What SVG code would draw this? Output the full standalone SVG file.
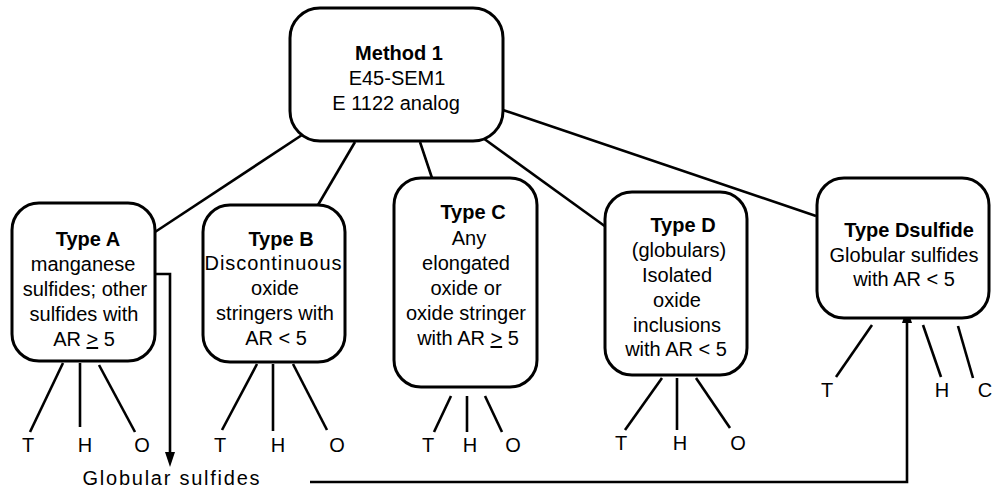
<svg xmlns="http://www.w3.org/2000/svg" width="992" height="492" viewBox="0 0 992 492">
<style>
.box{fill:#fff;stroke:#000;stroke-width:3}
.ln{fill:none;stroke:#000;stroke-width:2.6}
text{font-family:"Liberation Sans",Arial,sans-serif;font-size:20px;fill:#000;text-anchor:middle}
.b{font-weight:bold}
.u{text-decoration:underline}
</style>
<defs>
<marker id="arr" viewBox="0 0 15 10" markerWidth="15" markerHeight="10" refX="3" refY="5" orient="auto" markerUnits="userSpaceOnUse">
<path d="M0,0 L15,5 L0,10 z" fill="#000"/>
</marker>
</defs>
<g id="connectors">
<line class="ln" x1="305" y1="133" x2="155" y2="232"/>
<line class="ln" x1="355" y1="142" x2="318" y2="205"/>
<line class="ln" x1="420" y1="142" x2="432" y2="178"/>
<line class="ln" x1="483" y1="138" x2="606" y2="227"/>
<line class="ln" x1="503" y1="110" x2="816" y2="216"/>
<path class="ln" d="M155,274 H170 V455" marker-end="url(#arr)"/>
<path class="ln" d="M310,482 H907 V320" marker-end="url(#arr)"/>
<line class="ln" x1="63" y1="363" x2="30" y2="432"/>
<line class="ln" x1="80" y1="363" x2="80" y2="427"/>
<line class="ln" x1="99" y1="365" x2="135" y2="432"/>
<line class="ln" x1="257" y1="364" x2="222" y2="430"/>
<line class="ln" x1="273" y1="364" x2="273" y2="431"/>
<line class="ln" x1="293" y1="364" x2="327" y2="430"/>
<line class="ln" x1="451" y1="396" x2="434" y2="432"/>
<line class="ln" x1="467" y1="396" x2="467" y2="432"/>
<line class="ln" x1="485" y1="396" x2="502" y2="432"/>
<line class="ln" x1="662" y1="378" x2="625" y2="430"/>
<line class="ln" x1="677" y1="378" x2="677" y2="430"/>
<line class="ln" x1="696" y1="378" x2="730" y2="428"/>
<line class="ln" x1="872" y1="325" x2="836" y2="377"/>
<line class="ln" x1="923" y1="325" x2="941" y2="377"/>
<line class="ln" x1="958" y1="326" x2="973" y2="378"/>
</g>
<g id="method1">
<rect class="box" x="290" y="8" width="213" height="133" rx="30"/>
<text class="b" x="399" y="60">Method 1</text>
<text x="397" y="85">E45-SEM1</text>
<text x="396" y="110">E 1122 analog</text>
</g>
<g id="typeA">
<rect class="box" x="12" y="203" width="143" height="158" rx="27"/>
<text class="b" x="88" y="246">Type A</text>
<text x="83" y="271">manganese</text>
<text x="85" y="296">sulfides; other</text>
<text x="84" y="321">sulfides with</text>
<text x="84" y="346">AR <tspan class="u">&gt;</tspan> 5</text>
</g>
<g id="typeB">
<rect class="box" x="203" y="205" width="142" height="157" rx="27"/>
<text class="b" x="281" y="246">Type B</text>
<text x="273" y="270" textLength="137">Discontinuous</text>
<text x="275" y="295">oxide</text>
<text x="275" y="320">stringers with</text>
<text x="276" y="345">AR &lt; 5</text>
</g>
<g id="typeC">
<rect class="box" x="394" y="178" width="143" height="209" rx="27"/>
<text class="b" x="473" y="219">Type C</text>
<text x="469" y="245">Any</text>
<text x="466" y="270">elongated</text>
<text x="466" y="295">oxide or</text>
<text x="466" y="320">oxide stringer</text>
<text x="468" y="345">with AR <tspan class="u">&gt;</tspan> 5</text>
</g>
<g id="typeD">
<rect class="box" x="605" y="192" width="142" height="183" rx="27"/>
<text class="b" x="683" y="232">Type D</text>
<text x="679" y="257">(globulars)</text>
<text x="677" y="282">Isolated</text>
<text x="677" y="307">oxide</text>
<text x="677" y="332">inclusions</text>
<text x="676" y="356">with AR &lt; 5</text>
</g>
<g id="typeDsulfide">
<rect class="box" x="817" y="178" width="172" height="140" rx="27"/>
<text class="b" x="909" y="237">Type Dsulfide</text>
<text x="904" y="262">Globular sulfides</text>
<text x="904" y="286">with AR &lt; 5</text>
</g>
<g id="labels">
<text x="28" y="452">T</text>
<text x="85" y="452">H</text>
<text x="142" y="452">O</text>
<text x="220" y="452">T</text>
<text x="278" y="452">H</text>
<text x="337" y="452">O</text>
<text x="428" y="452">T</text>
<text x="470" y="452">H</text>
<text x="513" y="452">O</text>
<text x="621" y="450">T</text>
<text x="680" y="450">H</text>
<text x="738" y="450">O</text>
<text x="827" y="397">T</text>
<text x="942" y="397">H</text>
<text x="985" y="397">C</text>
<text x="171" y="485" textLength="177">Globular sulfides</text>
</g>
</svg>
